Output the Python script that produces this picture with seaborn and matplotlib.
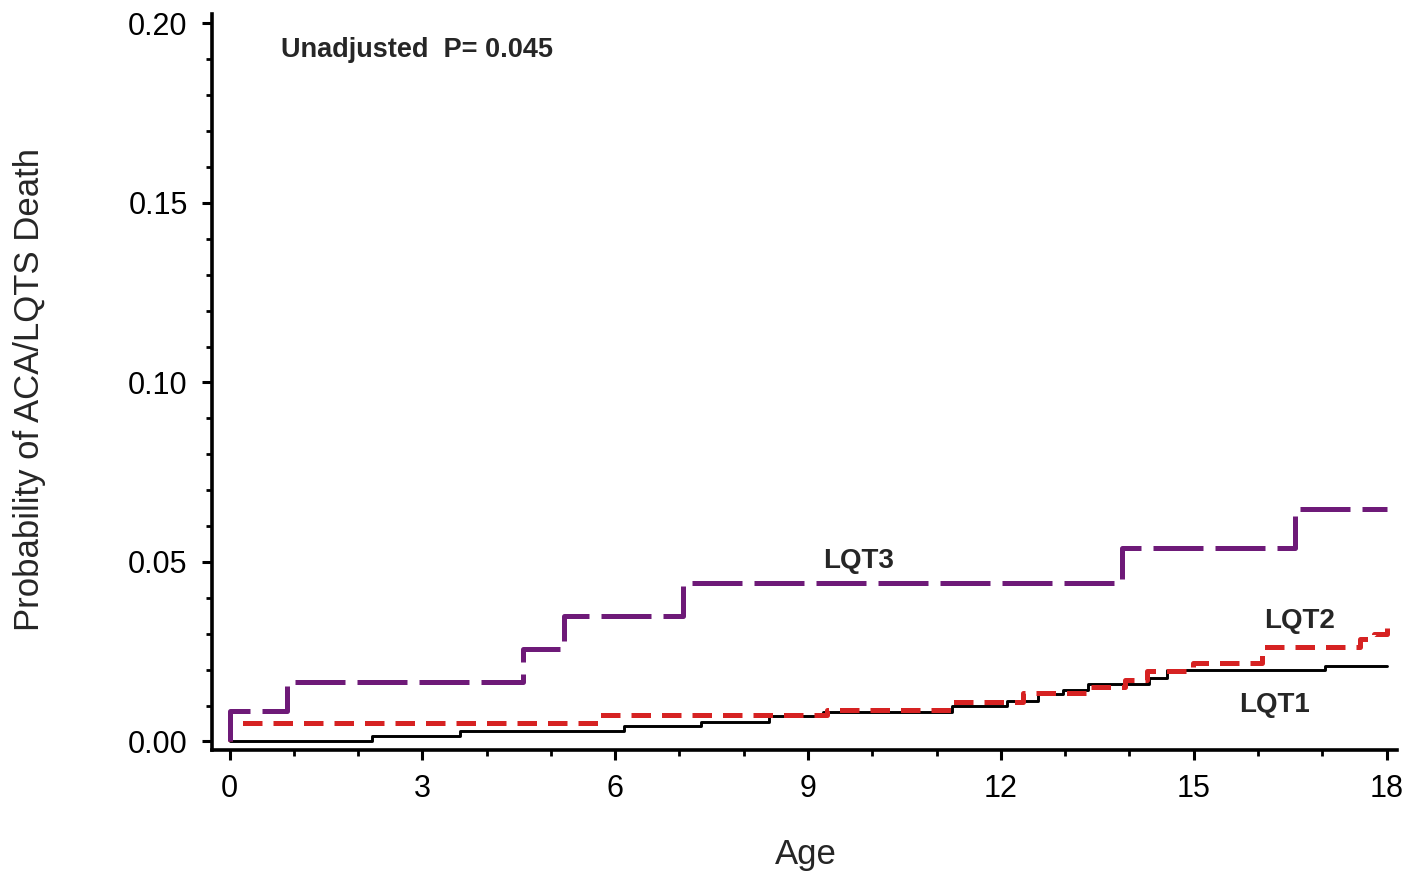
import matplotlib
matplotlib.use("Agg")
import matplotlib.pyplot as plt
import seaborn as sns
import pandas as pd
from matplotlib.ticker import MultipleLocator, FormatStrFormatter

# ---- data ----
lqt1_age = [0, 2.22, 3.59, 6.13, 7.33, 8.39, 9.24, 11.24, 12.10, 12.58, 12.97, 13.36, 14.30, 14.58, 17.04, 18.0]
lqt1_prob = [0, 0.0015, 0.0029, 0.0043, 0.0053, 0.0071, 0.0083, 0.0099, 0.0114, 0.0131, 0.0144, 0.0161, 0.0177, 0.0198, 0.0211, 0.0211]

lqt2_age = [0, 0, 5.74, 9.30, 11.24, 12.35, 13.39, 13.93, 14.27, 14.99, 16.06, 17.59, 17.80, 18.0]
lqt2_prob = [0, 0.0052, 0.0074, 0.0088, 0.0111, 0.0134, 0.0151, 0.0172, 0.0197, 0.0219, 0.0262, 0.0286, 0.0300, 0.0328]

lqt3_age = [0, 0, 0.90, 4.57, 5.20, 7.06, 13.88, 16.58, 18.0]
lqt3_prob = [0, 0.0086, 0.0167, 0.0257, 0.0350, 0.0441, 0.0540, 0.0648, 0.0648]

x_ticks = [0, 3, 6, 9, 12, 15, 18]
y_ticks = [0.00, 0.05, 0.10, 0.15, 0.20]
p_text = "Unadjusted  P= 0.045"
x_label = "Age"
y_label = "Probability of ACA/LQTS Death"

# ---- style ----
sns.set_style("ticks")
plt.rcParams["font.family"] = ["Liberation Sans", "DejaVu Sans"]

fig = plt.figure(figsize=(14.08, 8.72), dpi=100)
ax = fig.add_axes([0.1506, 0.1399, 0.8416, 0.8440])

PURPLE = "#6E1A78"
RED = "#D62222"

df1 = pd.DataFrame({"Age": lqt1_age, "P": lqt1_prob})
df2 = pd.DataFrame({"Age": lqt2_age, "P": lqt2_prob})
df3 = pd.DataFrame({"Age": lqt3_age, "P": lqt3_prob})

sns.lineplot(data=df1, x="Age", y="P", ax=ax, estimator=None, sort=False,
             drawstyle="steps-post", color="black", linewidth=2.1)
sns.lineplot(data=df2, x="Age", y="P", ax=ax, estimator=None, sort=False,
             drawstyle="steps-post", color=RED, linewidth=3.6,
             linestyle=(0, (3.9, 2.2)))
sns.lineplot(data=df3, x="Age", y="P", ax=ax, estimator=None, sort=False,
             drawstyle="steps-post", color=PURPLE, linewidth=3.6,
             linestyle=(0, (10.0, 2.4)))

ax.set_xlim(-0.272, 18.163)
ax.set_ylim(-0.00237, 0.2026)

ax.set_xticks(x_ticks)
ax.set_yticks(y_ticks)
ax.xaxis.set_minor_locator(MultipleLocator(1))
ax.yaxis.set_minor_locator(MultipleLocator(0.01))
ax.yaxis.set_major_formatter(FormatStrFormatter("%.2f"))

for s in ["top", "right"]:
    ax.spines[s].set_visible(False)
for s in ["left", "bottom"]:
    ax.spines[s].set_linewidth(2.6)
    ax.spines[s].set_color("black")

ax.tick_params(axis="both", which="major", direction="out", length=7.5, width=2.2,
               labelsize=22, colors="black", pad=10)
ax.tick_params(axis="both", which="minor", direction="out", length=4, width=2.0, colors="black")

ax.set_xlabel(x_label, fontsize=25)
ax.set_ylabel(y_label, fontsize=25)
ax.xaxis.set_label_coords(0.501, -0.120)
ax.yaxis.set_label_coords(-0.140, 0.490)

ax.text(0.80, 0.1907, p_text, fontsize=19.5, fontweight="bold", ha="left", va="baseline")
ax.text(9.78, 0.0483, "LQT3", fontsize=20, fontweight="bold", ha="center", va="baseline")
ax.text(16.64, 0.0316, "LQT2", fontsize=20, fontweight="bold", ha="center", va="baseline")
ax.text(16.26, 0.0082, "LQT1", fontsize=20, fontweight="bold", ha="center", va="baseline")

fig.savefig("out.png", dpi=100, facecolor="white")
